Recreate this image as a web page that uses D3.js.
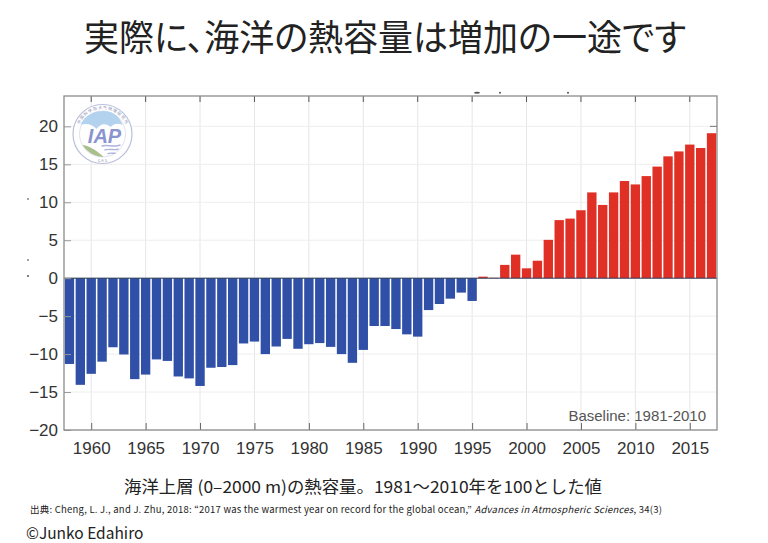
<!DOCTYPE html>
<html>
<head>
<meta charset="utf-8">
<script src="https://cdnjs.cloudflare.com/ajax/libs/d3/7.8.5/d3.min.js"></script>
<style>
html, body { margin: 0; padding: 0; background: #fff; }
svg { display: block; }
text { font-family: "Noto Sans CJK JP", "Noto Sans", sans-serif; }
.tick text { font-family: "Liberation Sans", sans-serif; font-size: 17px; fill: #333; }
</style>
</head>
<body>
<div id="chart"></div>
<script>
const firstYear = 1958;
// one value per year 1958-2017
const heat = [
    -11.3, -14.05, -12.6, -11.0, -9.1, -10.05, -13.3, -12.7, -10.7, -10.9,
    -12.95, -13.2, -14.2, -11.8, -11.7, -11.45, -8.6, -8.35, -10.0, -9.0,
    -8.0, -9.3, -8.7, -8.55, -9.05, -10.0, -11.15, -9.45, -6.3, -6.3,
    -6.7, -7.4, -7.7, -4.2, -3.4, -2.7, -1.9, -3.0, 0.2, 0.05,
    1.75, 3.1, 1.3, 2.3, 5.05, 7.65, 7.85, 8.95, 11.3, 9.65,
    11.3, 12.8, 12.35, 13.45, 14.7, 16.05, 16.7, 17.6, 17.15, 19.1
];
const xTicks = [1960, 1965, 1970, 1975, 1980, 1985, 1990, 1995, 2000, 2005, 2010, 2015];
const yTicks = [20, 15, 10, 5, 0, -5, -10, -15, -20];

const titleText = "実際に、海洋の熱容量は増加の一途です";
const captionText = "海洋上層 (0–2000 m)の熱容量。1981～2010年を100とした値";
const creditText = "©Junko Edahiro";
const baselineText = "Baseline: 1981-2010";

const width = 768, height = 543;
const margin = {top: 96, right: 51, bottom: 113, left: 64};
const plotWidth = width - margin.left - margin.right;
const plotHeight = height - margin.top - margin.bottom;

const svg = d3.select("#chart").append("svg")
    .attr("width", width)
    .attr("height", height);

svg.append("text")
    .attr("x", 385).attr("y", 51)
    .attr("text-anchor", "middle")
    .attr("font-size", 36)
    .attr("fill", "#222")
    .attr("textLength", 602)
    .attr("lengthAdjust", "spacingAndGlyphs")
    .style("font-feature-settings", '"palt"')
    .text(titleText);

const g = svg.append("g")
    .attr("transform", `translate(${margin.left},${margin.top})`);

const xScale = d3.scaleLinear().domain([1957.5, 2017.5]).range([0, plotWidth]);
const yScale = d3.scaleLinear().domain([-20, 24]).range([plotHeight, 0]);

// grid lines
g.append("g").selectAll("line").data(xTicks).enter().append("line")
    .attr("x1", d => xScale(d)).attr("x2", d => xScale(d))
    .attr("y1", 0).attr("y2", plotHeight)
    .attr("stroke", "#e6e6ea");
g.append("g").selectAll("line").data(yTicks).enter().append("line")
    .attr("x1", 0).attr("x2", plotWidth)
    .attr("y1", d => yScale(d)).attr("y2", d => yScale(d))
    .attr("stroke", "#eeeeef");

// bars
const barHalf = 0.43;
g.append("g").selectAll("rect")
    .data(heat)
    .enter()
    .append("rect")
    .attr("x", (d, i) => xScale(firstYear + i - barHalf))
    .attr("width", (d, i) => xScale(firstYear + i + barHalf) - xScale(firstYear + i - barHalf))
    .attr("y", d => yScale(Math.max(d, 0)))
    .attr("height", d => Math.abs(yScale(d) - yScale(0)))
    .attr("fill", d => d < 0 ? "#2f50a6" : "#e03026");

// zero line
g.append("line")
    .attr("x1", 0).attr("x2", plotWidth)
    .attr("y1", yScale(0)).attr("y2", yScale(0))
    .attr("stroke", "#2b3a55").attr("stroke-width", 1);

// axes
const xAxis = d3.axisBottom(xScale).tickValues(xTicks).tickFormat(d3.format("d")).tickSize(-7).tickPadding(12);
const yAxis = d3.axisLeft(yScale).tickValues(yTicks).tickSize(-7).tickPadding(6);

const gx = g.append("g").attr("transform", `translate(0,${plotHeight})`).call(xAxis);
const gy = g.append("g").call(yAxis);
gx.select(".domain").remove();
gy.select(".domain").remove();
gx.selectAll("line").attr("stroke", "#666");
gy.selectAll("line").attr("stroke", "#999");

// top and right ticks
g.append("g").selectAll("line").data(xTicks).enter().append("line")
    .attr("x1", d => xScale(d)).attr("x2", d => xScale(d))
    .attr("y1", 0).attr("y2", 6)
    .attr("stroke", "#555");
g.append("line")
    .attr("x1", plotWidth - 7).attr("x2", plotWidth)
    .attr("y1", yScale(20)).attr("y2", yScale(20))
    .attr("stroke", "#777");

// frame
g.append("rect")
    .attr("width", plotWidth).attr("height", plotHeight)
    .attr("fill", "none").attr("stroke", "#8c8c8c").attr("stroke-width", 1.3);

g.append("text")
    .attr("x", plotWidth - 11).attr("y", plotHeight - 9)
    .attr("text-anchor", "end")
    .attr("font-size", 15)
    .attr("fill", "#555")
    .style("font-family", '"Liberation Sans", sans-serif')
    .text(baselineText);

// IAP logo
const logo = svg.append("g").attr("transform", "translate(102.5,134)");
logo.append("circle").attr("r", 29.5).attr("fill", "#fff").attr("stroke", "#b9bfdc").attr("stroke-width", 1.2);
logo.append("circle").attr("r", 23).attr("fill", "none").attr("stroke", "#d3d6e8").attr("stroke-width", 0.7);
logo.append("path")
    .attr("d", "M-22,-9 C-18,-19 -8,-23 1,-23 C10,-23 17,-18 20,-9 C16,-11 12,-11 8,-7 C4,-11 -2,-11 -6,-5 C-10,-10 -17,-11 -22,-9 Z")
    .attr("fill", "#b3d2ee");
logo.append("text")
    .attr("x", 2).attr("y", 9)
    .attr("text-anchor", "middle")
    .attr("font-size", 20).attr("font-weight", "bold").attr("font-style", "italic")
    .attr("fill", "#8a94cf")
    .style("font-family", '"Liberation Sans", sans-serif')
    .text("IAP");
logo.append("path")
    .attr("d", "M-20,11 C-12,12 -4,18 1,23 C-7,23 -16,18 -20,11 Z")
    .attr("fill", "#a9c08e");
logo.append("path")
    .attr("d", "M-1,12 C5,10 11,14 18,11 M2,16 C7,14 12,17 16,15 M5,20 C8,18 10,20 13,19")
    .attr("fill", "none").attr("stroke", "#aeb4dc").attr("stroke-width", 1.4);
logo.append("path").attr("id", "logoRing")
    .attr("d", "M-25,0 A25,25 0 0 1 25,0").attr("fill", "none");
logo.append("text")
    .attr("font-size", 4).attr("fill", "#8a8fb0")
    .append("textPath").attr("href", "#logoRing").attr("startOffset", "50%").attr("text-anchor", "middle")
    .text("中 国 科 学 院 大 气 物 理 研 究 所");
logo.append("text")
    .attr("y", 28).attr("text-anchor", "middle")
    .attr("font-size", 4).attr("fill", "#8a8fb0")
    .text("C A S");

// leftovers of the cropped slide around the chart
const specks = [[477, 92.7, 3, 1], [500, 92.7, 1, 1], [568, 92.7, 1, 1], [28, 199, 1, 0.7], [28, 260, 1, 0.7], [28, 276, 1, 1]];
svg.append("g").selectAll("ellipse").data(specks).enter().append("ellipse")
    .attr("cx", d => d[0]).attr("cy", d => d[1])
    .attr("rx", d => d[2]).attr("ry", d => d[3])
    .attr("fill", "#555");

// bottom texts
svg.append("text")
    .attr("x", 124).attr("y", 493)
    .attr("font-size", 16.5).attr("fill", "#222")
    .attr("textLength", 478)
    .attr("lengthAdjust", "spacingAndGlyphs")
    .text(captionText);

const source = svg.append("text")
    .attr("x", 30).attr("y", 513)
    .attr("font-size", 9.5).attr("fill", "#222")
    .attr("textLength", 632);
source.append("tspan").text("出典: Cheng, L. J., and J. Zhu, 2018: “2017 was the warmest year on record for the global ocean,” ");
source.append("tspan").attr("font-style", "italic").text("Advances in Atmospheric Sciences");
source.append("tspan").text(", 34(3)");

svg.append("text")
    .attr("x", 26).attr("y", 539)
    .attr("font-size", 15.5).attr("fill", "#222")
    .text(creditText);
</script>
</body>
</html>
